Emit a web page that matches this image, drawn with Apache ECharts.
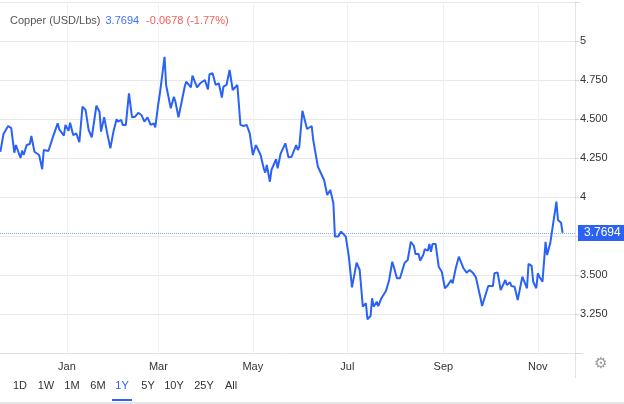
<!DOCTYPE html>
<html>
<head>
<meta charset="utf-8">
<title>Copper (USD/Lbs)</title>
<script src="https://cdn.jsdelivr.net/npm/echarts@6/dist/echarts.min.js"></script>
<style>
  html, body { margin: 0; padding: 0; background: #fff; }
  #chart { width: 624px; height: 404px; }
</style>
</head>
<body>
<div id="chart"></div>
<script>
// price readings (USD/Lbs)
var dates = [
  '2021-11-19','2021-11-21','2021-11-22','2021-11-24','2021-11-26','2021-11-28','2021-11-29',
  '2021-12-02','2021-12-03','2021-12-04','2021-12-06','2021-12-08','2021-12-09','2021-12-11',
  '2021-12-14','2021-12-16','2021-12-17','2021-12-20','2021-12-23','2021-12-24','2021-12-26',
  '2021-12-27','2021-12-30','2021-12-31',
  '2022-01-02','2022-01-03','2022-01-05','2022-01-07','2022-01-09','2022-01-11','2022-01-13',
  '2022-01-15','2022-01-16','2022-01-17','2022-01-20','2022-01-22','2022-01-23','2022-01-25',
  '2022-01-27','2022-01-29','2022-01-31',
  '2022-02-02','2022-02-03','2022-02-05','2022-02-06','2022-02-08','2022-02-10','2022-02-12',
  '2022-02-14','2022-02-16','2022-02-18','2022-02-20','2022-02-22','2022-02-24','2022-02-26',
  '2022-02-27',
  '2022-03-01','2022-03-02','2022-03-05','2022-03-06','2022-03-07','2022-03-09','2022-03-11',
  '2022-03-12','2022-03-14','2022-03-15','2022-03-18','2022-03-19','2022-03-22','2022-03-23',
  '2022-03-26','2022-03-28','2022-03-31',
  '2022-04-02','2022-04-03','2022-04-05','2022-04-07','2022-04-09','2022-04-11','2022-04-12',
  '2022-04-14','2022-04-16','2022-04-18','2022-04-21','2022-04-23','2022-04-25','2022-04-27',
  '2022-04-29',
  '2022-05-01','2022-05-02','2022-05-03','2022-05-06','2022-05-08','2022-05-09','2022-05-10',
  '2022-05-12','2022-05-13','2022-05-16','2022-05-17','2022-05-19','2022-05-20','2022-05-22',
  '2022-05-24','2022-05-26','2022-05-29','2022-05-30','2022-05-31',
  '2022-06-02','2022-06-05','2022-06-06','2022-06-08','2022-06-09','2022-06-12','2022-06-13',
  '2022-06-14','2022-06-16','2022-06-18','2022-06-19','2022-06-20','2022-06-22','2022-06-23',
  '2022-06-25','2022-06-27','2022-06-28','2022-06-30',
  '2022-07-02','2022-07-04','2022-07-05','2022-07-07','2022-07-09','2022-07-11','2022-07-13',
  '2022-07-14','2022-07-16','2022-07-17','2022-07-18','2022-07-20','2022-07-21','2022-07-23',
  '2022-07-24','2022-07-26','2022-07-28','2022-07-30','2022-07-31',
  '2022-08-02','2022-08-04','2022-08-07','2022-08-09','2022-08-11','2022-08-13','2022-08-14',
  '2022-08-16','2022-08-17','2022-08-19','2022-08-20','2022-08-22','2022-08-23','2022-08-24',
  '2022-08-25','2022-08-27','2022-08-29','2022-08-31',
  '2022-09-02','2022-09-04','2022-09-06','2022-09-07','2022-09-09','2022-09-11','2022-09-14',
  '2022-09-16','2022-09-18','2022-09-20','2022-09-22','2022-09-23','2022-09-25','2022-09-26',
  '2022-09-27','2022-09-30',
  '2022-10-03','2022-10-04','2022-10-06','2022-10-08','2022-10-11','2022-10-12','2022-10-14',
  '2022-10-15','2022-10-17','2022-10-19','2022-10-22','2022-10-25','2022-10-26','2022-10-28',
  '2022-10-29','2022-10-31',
  '2022-11-01','2022-11-02','2022-11-04','2022-11-06','2022-11-07','2022-11-09','2022-11-10',
  '2022-11-13','2022-11-14','2022-11-16','2022-11-17'
];
var prices = [
  4.290,4.404,4.397,4.455,4.442,4.284,4.333,
  4.250,4.297,4.269,4.333,4.340,4.391,4.290,
  4.269,4.178,4.301,4.295,4.387,4.393,4.472,
  4.434,4.393,4.462,
  4.425,4.476,4.397,4.408,4.351,4.579,4.558,
  4.429,4.434,4.383,4.585,4.547,4.419,4.511,
  4.408,4.312,4.419,
  4.498,4.483,4.494,4.462,4.462,4.665,4.511,
  4.515,4.540,4.526,4.483,4.511,4.462,4.472,
  4.447,
  4.601,4.665,4.899,4.718,4.707,4.569,4.643,
  4.611,4.511,4.504,4.707,4.739,4.703,4.778,
  4.703,4.729,4.750,
  4.690,4.787,4.793,4.718,4.729,4.637,4.707,
  4.718,4.814,4.686,4.718,4.462,4.455,4.462,
  4.408,
  4.269,4.280,4.333,4.269,4.184,4.156,4.205,
  4.098,4.173,4.242,4.184,4.280,4.280,4.344,
  4.254,4.258,4.333,4.301,4.322,
  4.553,4.436,4.439,4.455,4.365,4.194,4.173,
  4.167,4.109,4.013,4.006,4.045,3.960,3.746,
  3.746,3.778,3.782,3.746,
  3.617,3.421,3.415,3.579,3.532,3.297,3.319,
  3.216,3.237,3.351,3.297,3.329,3.301,3.351,
  3.361,3.399,3.468,3.585,3.553,
  3.479,3.479,3.579,3.596,3.713,3.686,3.635,
  3.635,3.592,3.628,3.665,3.656,3.699,3.649,
  3.699,3.699,3.553,3.521,
  3.415,3.436,3.468,3.447,3.543,3.617,3.543,
  3.515,3.532,3.515,3.485,3.479,3.351,3.301,
  3.297,3.429,
  3.429,3.511,3.517,3.404,3.468,3.436,3.453,
  3.429,3.425,3.340,3.489,3.415,3.571,3.558,
  3.457,3.415,
  3.511,3.489,3.457,3.713,3.628,3.703,3.703,
  3.970,3.853,3.835,3.7694
];
var lastPrice = 3.7694;
var change = '-0.0678 (-1.77%)';
var monthTicks = ['2022-01-01','2022-03-01','2022-05-01','2022-07-01','2022-09-01','2022-11-01'];
var monthNames = ['Jan','Feb','Mar','Apr','May','Jun','Jul','Aug','Sep','Oct','Nov','Dec'];
var hiddenYLabels = [3, 3.75, 5.25];
var ranges = ['1D','1W','1M','6M','1Y','5Y','10Y','25Y','All'];
var activeRange = '1Y';

function toTime(s) {
  var p = s.split('-');
  return new Date(+p[0], +p[1] - 1, +p[2]).getTime();
}

var seriesData = dates.map(function (d, i) {
  return [toTime(d), prices[i]];
});
var tickTimes = monthTicks.map(toTime);

var fontFamily = '"Liberation Sans", Arial, sans-serif';
var blue = '#2a62f6';

var chart = echarts.init(document.getElementById('chart'));

// range buttons along the bottom
var btnX = [20, 46, 72, 98, 122, 148, 174, 204, 231];
var graphics = ranges.map(function (r, i) {
  return {
    type: 'text',
    x: btnX[i],
    y: 386,
    style: {
      text: r,
      align: 'center',
      verticalAlign: 'middle',
      font: '11px ' + fontFamily,
      fill: r === activeRange ? blue : '#333'
    }
  };
});
graphics.push(
  { type: 'rect', shape: { x: 112, y: 399, width: 20, height: 2 }, style: { fill: blue } },
  { type: 'rect', shape: { x: 0, y: 402, width: 624, height: 2 }, style: { fill: '#e6e6e6' } },
  { type: 'line', shape: { x1: 575.5, y1: 353, x2: 575.5, y2: 378 }, style: { stroke: '#e3e3e3', lineWidth: 1 } },
  { type: 'line', shape: { x1: 575, y1: 353.5, x2: 583, y2: 353.5 }, style: { stroke: '#e3e3e3', lineWidth: 1 } },
  {
    type: 'text',
    x: 601,
    y: 364,
    style: {
      text: '\u2699',
      align: 'center',
      verticalAlign: 'middle',
      font: '15px "DejaVu Sans"',
      fill: '#9a9a9a'
    }
  }
);

chart.setOption({
  animation: false,
  backgroundColor: '#fff',
  title: {
    left: 10,
    top: 15,
    padding: 0,
    text: '{a|Copper (USD/Lbs)}{b|' + lastPrice.toFixed(4) + '}{c|' + change + '}',
    textStyle: {
      fontWeight: 'normal',
      rich: {
        a: { fontSize: 11, color: '#555', fontWeight: 'normal', fontFamily: fontFamily, padding: [0, 5, 0, 0] },
        b: { fontSize: 11, color: '#3d6ef7', fontWeight: 'normal', fontFamily: fontFamily, padding: [0, 7, 0, 0] },
        c: { fontSize: 11, color: '#f0605a', fontWeight: 'normal', fontFamily: fontFamily }
      }
    }
  },
  grid: {
    left: 0,
    right: 49,
    top: 2,
    bottom: 51,
    containLabel: false
  },
  xAxis: {
    type: 'value',
    min: new Date(2021, 10, 18, 18).getTime(),
    max: new Date(2022, 10, 25).getTime(),
    axisLine: { show: true, onZero: false, lineStyle: { color: '#e3e3e3' } },
    axisTick: { show: false, customValues: tickTimes },
    axisLabel: {
      customValues: tickTimes,
      margin: 8,
      fontSize: 11,
      color: '#333',
      fontFamily: fontFamily,
      formatter: function (v) {
        return monthNames[new Date(v).getMonth()];
      }
    },
    splitLine: { show: true, lineStyle: { color: '#eef2f6', width: 1 } }
  },
  yAxis: {
    type: 'value',
    position: 'right',
    min: 3,
    max: 5.25,
    interval: 0.25,
    axisLine: { show: true, lineStyle: { color: '#e3e3e3' } },
    axisTick: { show: true, length: 4, lineStyle: { color: '#d8d8d8' } },
    axisLabel: {
      margin: 5,
      fontSize: 11,
      color: '#333',
      fontFamily: fontFamily,
      formatter: function (v) {
        for (var i = 0; i < hiddenYLabels.length; i++) {
          if (Math.abs(v - hiddenYLabels[i]) < 1e-6) return '';
        }
        return Math.abs(v - Math.round(v)) < 1e-6 ? String(Math.round(v)) : v.toFixed(3);
      }
    },
    splitLine: { show: true, lineStyle: { color: '#e8e8e8', width: 1 } }
  },
  series: [
    {
      type: 'line',
      data: seriesData,
      showSymbol: false,
      symbol: 'none',
      lineStyle: { color: blue, width: 2 },
      markLine: {
        silent: true,
        symbol: 'none',
        lineStyle: { color: 'rgba(42, 98, 246, 0.55)', type: 'dotted', width: 1 },
        label: {
          show: true,
          position: 'end',
          distance: 3,
          formatter: lastPrice.toFixed(4),
          color: '#fff',
          backgroundColor: blue,
          fontSize: 12,
          fontFamily: fontFamily,
          padding: [2, 6, 2, 6],
          lineHeight: 12
        },
        data: [{ yAxis: lastPrice }]
      }
    }
  ],
  graphic: graphics
});
</script>
</body>
</html>
